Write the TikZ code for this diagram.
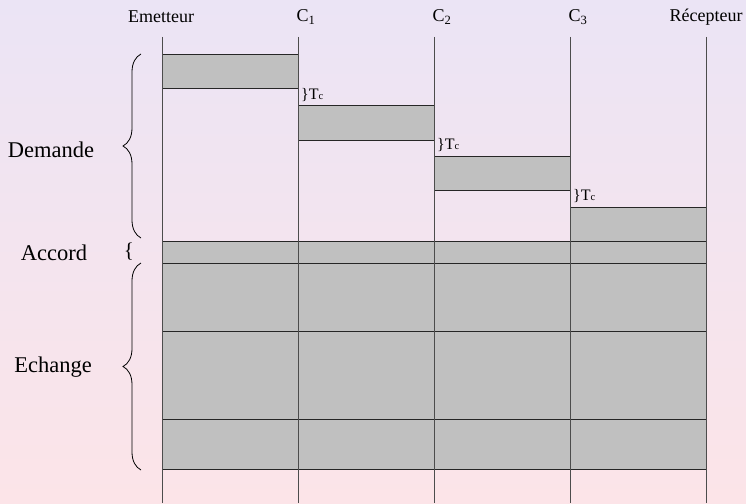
\documentclass[tikz,border=0pt]{standalone}
\usepackage{fontspec}
\setmainfont{Liberation Serif}
\usetikzlibrary{decorations.pathreplacing}
\definecolor{bgtop}{RGB}{235,228,245}
\definecolor{bgbot}{RGB}{252,228,232}
\definecolor{boxgray}{RGB}{192,192,192}
\begin{document}
\begin{tikzpicture}[x=1pt,y=-1pt,
  lifeline/.style={draw=black!70,line width=0.9pt},
  msgbox/.style={draw=black!85,fill=boxgray,line width=0.9pt},
  toplabel/.style={font=\fontsize{18}{20}\selectfont,inner sep=0pt},
  sidelabel/.style={font=\fontsize{22.5}{24}\selectfont,inner sep=0pt},
  tclabel/.style={font=\fontsize{16}{17}\selectfont,inner sep=0pt,anchor=west},
  bracestyle/.style={draw=black,line width=0.8pt,decorate,decoration={brace,amplitude=18pt,aspect=0.5}}]
\shade[top color=bgtop,bottom color=bgbot] (0,0) rectangle (746,503);
\useasboundingbox (0,0) rectangle (746,503);
% lifelines
\foreach \n/\x in {E/162,C1/298,C2/434,C3/570,R/706}{
  \coordinate (\n-top) at (\x,37);
  \coordinate (\n-bot) at (\x,503);
}
% boxes
\draw[msgbox] (162,54) rectangle (298,88);
\draw[msgbox] (298,105) rectangle (434,140);
\draw[msgbox] (434,156) rectangle (570,190);
\draw[msgbox] (570,207) rectangle (706,241);
\draw[msgbox] (162,241) rectangle (706,263);
\draw[msgbox] (162,263) rectangle (706,331);
\draw[msgbox] (162,331) rectangle (706,419);
\draw[msgbox] (162,419) rectangle (706,469);
\foreach \n in {E,C1,C2,C3,R}{\draw[lifeline] (\n-top) -- (\n-bot);}
% top labels
\node[toplabel] (lE) at (161,17) {Emetteur};
\node[toplabel] (lC1) at (306,17) {C\textsubscript{1}};
\node[toplabel] (lC2) at (442,17) {C\textsubscript{2}};
\node[toplabel] (lC3) at (578,17) {C\textsubscript{3}};
\node[toplabel] (lR) at (706,17) {Récepteur};
% Tc labels
\node[tclabel] (tc1) at (301,95) {\}T{\fontsize{10.5}{11}\selectfont c}};
\node[tclabel] (tc2) at (437,145) {\}T{\fontsize{10.5}{11}\selectfont c}};
\node[tclabel] (tc3) at (573,196) {\}T{\fontsize{10.5}{11}\selectfont c}};
% braces
\coordinate (bd1) at (141,238);
\coordinate (bd2) at (141,54);
\coordinate (be1) at (141,470);
\coordinate (be2) at (141,263);
\draw[bracestyle] (bd1) -- (bd2);
\draw[bracestyle] (be1) -- (be2);
\node[font=\fontsize{21}{22}\selectfont,inner sep=0pt] (ba) at (129,252) {\{};
% side labels
\node[sidelabel] (dem) at (51,150) {Demande};
\node[sidelabel] (acc) at (54,253) {Accord};
\node[sidelabel] (ech) at (53,367) {Echange};
\end{tikzpicture}
\end{document}
